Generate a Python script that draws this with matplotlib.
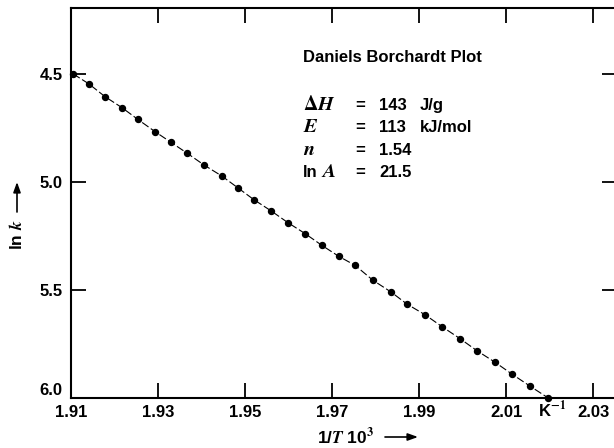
import matplotlib
matplotlib.use("Agg")
import matplotlib.pyplot as plt
from matplotlib import font_manager

# values (1/T * 10^3 in K^-1, ln k as printed)
inv_T = [1.9105, 1.9141, 1.9178, 1.9217, 1.9254, 1.9293, 1.9330, 1.9367,
         1.9406, 1.9447, 1.9484, 1.9521, 1.9560, 1.9599, 1.9638, 1.9677,
         1.9716, 1.9753, 1.9794, 1.9836, 1.9872, 1.9914, 1.9953, 1.9994,
         2.0033, 2.0075, 2.0114, 2.0155, 2.0197]
ln_k = [4.500, 4.546, 4.605, 4.656, 4.711, 4.767, 4.817, 4.867,
        4.922, 4.973, 5.028, 5.083, 5.134, 5.189, 5.239, 5.294,
        5.345, 5.386, 5.455, 5.510, 5.565, 5.615, 5.670, 5.725,
        5.781, 5.835, 5.890, 5.945, 6.000]

x_ticks = [1.91, 1.93, 1.95, 1.97, 1.99, 2.01, 2.03]
x_ticklabels = ["1.91", "1.93", "1.95", "1.97", "1.99", "2.01", "2.03"]
y_ticks = [4.5, 5.0, 5.5, 6.0]
y_ticklabels = ["4.5", "5.0", "5.5", "6.0"]

# (prefix in bold sans, italic symbol, value, unit)
params = [("", r"$\Delta H$", "143", "J/g"),
          ("", r"$E$", "113", "kJ/mol"),
          ("", r"$n$", "1.54", ""),
          ("ln", r"$A$", "21.5", "")]

installed = {f.name for f in font_manager.fontManager.ttflist}
family = [f for f in ["Liberation Sans Narrow", "Liberation Sans", "DejaVu Sans"] if f in installed]
plt.rcParams["font.family"] = family
plt.rcParams["font.weight"] = "bold"
plt.rcParams["mathtext.fontset"] = "stix"


def fig_xy(px, py):
    return px / 614, 1 - py / 448


fig = plt.figure(figsize=(6.14, 4.48), dpi=100)
# right spine sits just outside the picture, as in the scan
ax = fig.add_axes([71 / 614, 50 / 448, 546 / 614, 390 / 448])

ax.plot(inv_T, ln_k, color="black", lw=0.8, linestyle=(0, (7, 2.5)),
        marker="o", markersize=4.3, clip_on=False, zorder=3)

ax.set_xlim(1.91, 2.0355)
ax.set_ylim(6.0, 4.195)

ax.set_xticks(x_ticks)
ax.set_xticklabels(x_ticklabels)
ax.set_yticks(y_ticks)
ax.set_yticklabels(y_ticklabels)
ax.tick_params(direction="in", length=11, width=1.3, labelsize=12, colors="black",
               top=True, right=True)
ax.tick_params(axis="x", pad=5)
ax.tick_params(axis="y", pad=6)
for lab in ax.get_xticklabels() + ax.get_yticklabels():
    lab.set_fontweight("bold")
# the bottom y label sits a bit above the corner, clear of 1.91
ax.get_yticklabels()[-1].set_verticalalignment("bottom")
for sp in ax.spines.values():
    sp.set_linewidth(1.5)

# axis labels, arrows drawn separately
fig.text(*fig_xy(346, 437), "1/$T$ 10$^3$", ha="center", va="center",
         fontsize=12.5, fontweight="bold")
fig.text(*fig_xy(17, 235), "ln $k$", ha="center", va="center",
         rotation=90, fontsize=12.5, fontweight="bold")
arrow = dict(arrowstyle="-|>,head_length=0.5,head_width=0.18", color="black", lw=1.2,
             shrinkA=0, shrinkB=0)
fig.add_artist(plt.matplotlib.patches.FancyArrowPatch(
    fig_xy(385, 437), fig_xy(418, 437), transform=fig.transFigure, mutation_scale=12,
    **arrow))
fig.add_artist(plt.matplotlib.patches.FancyArrowPatch(
    fig_xy(17, 212), fig_xy(17, 182), transform=fig.transFigure, mutation_scale=12,
    **arrow))
fig.text(*fig_xy(552, 410), r"K$^{\mathbf{-1}}$", ha="center", va="center",
         fontsize=12, fontweight="bold")

# annotation block (all parts of a row share one baseline)
fig.text(*fig_xy(303, 57), "Daniels Borchardt Plot", ha="left", va="center",
         fontsize=12, fontweight="bold")
row_base = [110, 132, 155, 177]
for (prefix, sym, val, unit), py in zip(params, row_base):
    sx = 303
    if prefix:
        fig.text(*fig_xy(303, py), prefix, ha="left", va="baseline", fontsize=12, fontweight="bold")
        sx = 321
    fig.text(*fig_xy(sx, py), sym, ha="left", va="baseline", fontsize=14.5, fontweight="normal")
    fig.text(*fig_xy(355, py), "=", ha="left", va="baseline", fontsize=12, fontweight="bold")
    fig.text(*fig_xy(379, py), val, ha="left", va="baseline", fontsize=12, fontweight="bold")
    if unit:
        fig.text(*fig_xy(420, py), unit, ha="left", va="baseline", fontsize=12, fontweight="bold")

fig.savefig("out.png", dpi=100)
